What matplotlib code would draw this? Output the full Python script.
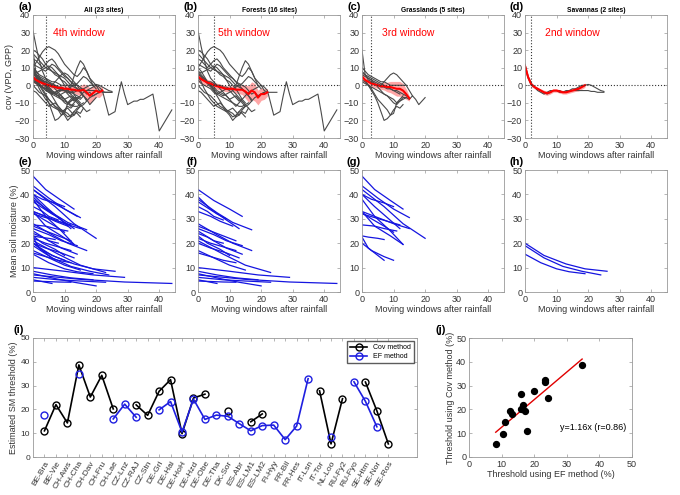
import matplotlib.pyplot as plt
import numpy as np

plt.rcParams['font.family'] = ['Liberation Sans', 'DejaVu Sans']

# cov(VPD, GPP) per moving window (x = 0, 1, 2, ...), gray lines
cov_forest = [
    [8, 6, 4, 2, 0, -2, -4, -5, -6, -5, -4, -3, 0, 5, 10, 14, 12, 8, 4, 2, 0, -1, -3, -10, -17, -16, -15, -6, 2,
     -5, -11, -10, -9, -9, -8, -8, -7, -6, -5, -15, -26, -23, -20, -17, -14],
    [31, 22, 14, 8, 4, 2, 0, -2, -4, -6, -8, -10, -12, -10, -8],
    [10, 13, 16, 19, 21, 22, 21, 20, 18, 15, 12, 10, 8, 6, 5, 7, 10, 8, 4, 0],
    [20, 19, 17, 15, 12, 10, 8, 6, 5, 3, 2, 0, -2, -5, -8, -10],
    [15, 14, 12, 10, 12, 14, 15, 13, 10, 8, 6, 4, 2, 0, -2, -4, -6, -9],
    [10, 8, 5, 2, 0, -3, -6, -9, -12, -14, -15, -16, -18, -17, -15, -16, -13],
    [5, 2, -2, -5, -8, -10, -12, -13, -14, -15, -14, -13, -15, -17, -14, -12],
    [12, 11, 10, 9, 8, 10, 12, 11, 9, 7, 5, 4, 2, 1, 0, -1, -3, -5, -4, -6, -5, -4],
    [0, -2, -4, -5, -6, -8, -10, -12, -13, -15, -17, -20, -18, -15, -13, -12],
    [6, 5, 3, 1, 0, -1, -3, -4, -5, -6, -8, -7, -6, -8, -10, -12, -11, -9, -7, -6, -5, -4],
    [8, 7, 8, 9, 10, 11, 10, 8, 6, 3, 0, -3, -5, -7, -9, -11, -13, -15, -14],
    [3, 1, 0, -1, -2, -4, -5, -4, -3, -2, -3, -5, -7, -9, -8, -6, -4, -3, -2, -1, 0, -3, -4, -4, -4, -4],
    [18, 16, 14, 12, 10, 9, 8, 7, 6, 5, 4, 2, 0, -1, -2, -4, -6, -8],
    [-3, -4, -6, -8, -10, -12, -11, -10, -12, -14, -16, -18, -17, -15, -16, -18],
    [4, 4, 3, 2, 2, 1, 0, 0, -1, -1, -2, -2, -1, 0, 1, 3, 5, 4, 2, 0, -2],
    [7, 5, 3, 1, -1, -3, -5, -6, -7, -8, -9, -10, -11, -12, -12, -11, -10],
]
cov_grass = [
    [20, 6, 3, 2, 1, 0, -1, -1, -2, -2, -3, -3, -4, -5, -6, -7],
    [10, 8, 6, 5, 4, 3, 2, 2, 1, 0, 0, 0, 0, 0, 0],
    [5, 3, 0, -3, -6, -10, -15, -20, -19, -17, -14, -12, -13, -11],
    [3, 2, 0, -2, -5, -8, -10, -12, -14, -17, -16, -10, -8, -6],
    [8, 6, 4, 3, 2, 1, 0, 2, 4, 6, 7, 6, 4, 2, 0, -3, -6],
    [6, 5, 4, 3, 1, -1, -3, -5, -6, -8, -10, -11, -9, -7, -7, -8, -6, -8, -11, -9, -7],
    [2, 1, 0, -1, -2, -3, -4, -5, -6, -7, -8, -10, -9, -8, -7],
    [7, 6, 5, 4, 3, 2, 1, 0, -1, -2, -3, -4, -5],
]
cov_savanna = [
    [12, 5, 1, -1, -2, -3, -4, -5, -4, -3, -3, -4, -4, -3, -3, -2, -2, -1, 0, 0, 0.5, 0, -1, -2, -3, -3.5],
    [10, 4, 0, -1, -3, -4, -5, -4, -3, -3, -3, -3, -4, -4, -3, -3, -3, -3, -3, -3, -3, -3.5, -3.5, -4, -4, -4],
]

# group mean (red) and its spread
mean_all = [4.5, 3, 2, 1.2, 0.5, 0, -0.5, -1, -1.5, -1.5, -2, -2, -2.5, -2.5, -3, -3, -2.5, -4, -6, -4.5, -3, -4, -3]
band_all = [3, 2.5, 2.2, 2, 1.8, 1.6, 1.6, 1.6, 1.6, 1.6, 1.6, 1.8, 1.8, 2, 2.3, 2.8, 3.3, 4.2, 4.6, 4.2, 3.6, 3, 2.2]
mean_for = [5, 3.5, 2.5, 1.5, 1, 0, -0.5, -1, -1.5, -2, -2, -2, -2.5, -2.5, -2.5, -3.5, -5, -3, -4, -7, -5, -5, -4]
band_for = [3, 2.5, 2.2, 1.8, 1.8, 1.7, 1.7, 1.7, 1.7, 1.7, 1.7, 1.7, 2, 2.2, 2.8, 3.8, 4.6, 5, 5, 4.2, 3.6, 3, 2.2]
mean_gr = [5, 3, 2, 1, 0.5, 0, -0.5, -0.5, -1, -1, -1.5, -2, -2, -3, -5, -7.5]
band_gr = [2.5, 2.2, 1.8, 1.8, 1.8, 1.8, 1.8, 2.2, 2.7, 3.2, 3.7, 4.2, 4.2, 4, 3, 1.5]
mean_sv = [11, 4.5, 0.5, -1, -2, -3, -4, -4.5, -4, -3, -3, -3.5, -4, -4, -3.5, -3, -2.5, -2, -1, 0]
band_sv = [1.6, 1.4, 1.2, 1, 0.9, 1, 1.2, 1.2, 1, 0.9, 0.9, 1, 1, 1, 1, 1, 1, 1.2, 1.2, 1.2]

group_titles = ['All (23 sites)', 'Forests (16 sites)', 'Grasslands (5 sites)', 'Savannas (2 sites)']
threshold_windows = [4, 5, 3, 2]
window_labels = ['4th window', '5th window', '3rd window', '2nd window']

# mean soil moisture drydowns (window, %), blue lines
sm_forest = [
    ([0, 5, 10, 14], [42, 37.5, 34, 31]),
    ([0, 4, 9, 13], [39, 34, 29.5, 26]),
    ([0, 6, 11, 17], [38, 32.5, 28.5, 25.5]),
    ([0, 3, 6, 9], [37, 34.5, 32, 30]),
    ([0, 3, 5, 8], [35, 33, 31, 29.5]),
    ([0, 4, 7, 11], [33, 31, 29, 27]),
    ([0, 6, 11, 17], [28, 23.5, 20, 17]),
    ([0, 4, 8, 12], [27, 25, 23, 21]),
    ([0, 5, 9, 14], [26, 23.5, 21, 19]),
    ([0, 5, 9, 14], [25, 21, 18, 15.5]),
    ([0, 3, 5, 8], [24, 22.5, 21, 20]),
    ([0, 3, 7, 10], [23, 20, 17.5, 15]),
    ([0, 4, 8, 12], [22, 20, 18.5, 17]),
    ([0, 8, 15, 23], [21, 15.5, 11, 8]),
    ([0, 4, 9, 13], [20, 18, 16, 14]),
    ([0, 5, 10, 15], [17, 14, 11, 9]),
    ([0, 4, 8, 12], [16, 14.5, 13, 12]),
    ([0, 10, 19, 29], [10, 8.5, 7, 6]),
    ([0, 7, 13, 20], [7.5, 5.5, 4, 2.5]),
    ([0, 15, 29, 44], [7, 5.2, 4.1, 3.5]),
    ([0, 8, 15, 23], [6, 5, 4.5, 4]),
    ([0, 2, 4, 6], [5, 4.5, 4, 3.5]),
    ([0, 4, 8, 12], [4.5, 4.3, 4.1, 4]),
    ([0, 6, 12, 19], [8.5, 7, 5.8, 5]),
]
sm_grass = [
    ([0, 4, 9, 13], [47.5, 42, 37.5, 34]),
    ([0, 5, 10, 15], [43.5, 38.5, 34, 30.5]),
    ([0, 7, 13, 20], [42, 35, 28, 22]),
    ([0, 3, 7, 10], [40, 38, 36.5, 35]),
    ([0, 4, 9, 13], [38, 31, 25, 19.5]),
    ([0, 4, 8, 12], [40, 35, 30.5, 26]),
    ([0, 5, 10, 15], [33, 30.5, 28, 26]),
    ([0, 3, 7, 10], [32.5, 30, 27, 24.5]),
    ([0, 4, 8, 12], [32, 30.5, 29, 27.5]),
    ([0, 4, 7, 11], [27.5, 27, 26, 25]),
    ([0, 4, 9, 13], [33, 27, 23, 19.5]),
    ([0, 2, 5, 7], [23, 22.5, 22, 21.5]),
    ([0, 2, 5, 7], [22.5, 18, 15, 13]),
    ([0, 3, 7, 10], [20, 17, 14.5, 13]),
]
sm_savanna = [
    ([0, 6, 13, 19, 26], [20, 15, 11.5, 9.5, 8.5]),
    ([0, 6, 12, 18, 24], [19, 14, 10.5, 8.5, 7]),
    ([0, 5, 10, 14, 19], [15.5, 12, 9.5, 8.3, 7.5]),
]

# site thresholds (panels i, j)
sites = ['BE-Bra', 'BE-Vie', 'CH-Aws', 'CH-Cha', 'CH-Dav', 'CH-Fru', 'CH-Lae', 'CZ-Lnz', 'CZ-RAJ', 'CZ-Stn',
         'DE-Gri', 'DE-Hai', 'DE-HoH', 'DE-Hzd', 'DE-Obe', 'DE-Tha', 'DK-Sor', 'ES-Abr', 'ES-LM1', 'ES-LM2',
         'FI-Hyy', 'FR-Bil', 'FR-Hes', 'IT-Lsn', 'IT-Tor', 'NL-Loo', 'RU-Fy2', 'RU-Fyo', 'SE-Htm', 'SE-Nor',
         'SE-Ros']
nan = np.nan
cov_thr = [11, 22, 14.3, 38.7, 25.2, 34.3, 20.2, nan, 21.9, 17.5, 27.6, 32.5, 9.8, 24.8, 26.4, nan, 19.4, nan,
           14.8, 18.1, nan, nan, nan, nan, 27.8, 5.5, 24.5, nan, 31.5, 19.4, 5.5]
ef_thr = [17.8, nan, nan, 34.7, nan, nan, 16, 22.2, 16.7, nan, 19.8, 23.3, 10.5, 24.3, 15.8, 17.6, 17.1, 14,
          11, 13.2, 13.4, 7.3, 13, 32.9, nan, 8.2, nan, 31.6, 23.4, 12.7, nan]
fit_slope = 1.16
fit_icpt = 0.9

W, H = 680, 495
GRAY = '#999999'


def px_axes(fig, left, top, right, bottom):
    return fig.add_axes([left / W, 1 - bottom / H, (right - left) / W, (bottom - top) / H])


def style(ax, size=6.5):
    for s in ax.spines.values():
        s.set_color(GRAY)
        s.set_linewidth(0.6)
    ax.tick_params(direction='in', length=2, width=0.5, colors=GRAY, labelcolor='#333333',
                   labelsize=size, top=True, right=True, pad=2)


def panel_label(fig, text, x, y):
    fig.text(x / W, 1 - y / H, text, fontsize=8, fontweight='bold', ha='right', va='baseline')


fig = plt.figure(figsize=(6.8, 4.95), dpi=100)

lefts = [33, 198, 362, 525]
cov_groups = [cov_forest + cov_grass + cov_savanna, cov_forest, cov_grass, cov_savanna]
means = [mean_all, mean_for, mean_gr, mean_sv]
bands = [band_all, band_for, band_gr, band_sv]
sm_groups = [sm_forest + sm_grass + sm_savanna, sm_forest, sm_grass, sm_savanna]
labels_top = ['(a)', '(b)', '(c)', '(d)']
labels_mid = ['(e)', '(f)', '(g)', '(h)']

for k in range(4):
    L = lefts[k]
    ax = px_axes(fig, L, 15, L + 142, 138)
    for c in cov_groups[k]:
        ax.plot(np.arange(len(c)), c, color='#4a4a4a', lw=0.8)
    m = np.array(means[k])
    b = np.array(bands[k])
    xm = np.arange(len(m))
    ax.fill_between(xm, m - b, m + b, color='#ff3b3b', alpha=0.45, lw=0)
    ax.plot(xm, m, color='red', lw=1.5)
    ax.axhline(0, color='#333333', ls=':', lw=0.8)
    ax.axvline(threshold_windows[k], color='#333333', ls=':', lw=0.8)
    ax.text(6.3, 29.7, window_labels[k], color='red', fontsize=7.5, va='center')
    ax.set_xlim(0, 45)
    ax.set_ylim(-30, 40)
    ax.set_xticks([0, 10, 20, 30, 40])
    ax.set_yticks(range(-30, 41, 10))
    ax.set_xlabel('Moving windows after rainfall', fontsize=6.5, color='#333333', labelpad=1)
    ax.set_title(group_titles[k], fontsize=4.8, fontweight='bold', pad=2)
    style(ax)
    if k == 0:
        ax.set_ylabel('cov (VPD, GPP)', fontsize=6.5, color='#333333', labelpad=1)
    panel_label(fig, labels_top[k], L - 1, 10)

    ax2 = px_axes(fig, L, 170, L + 142, 292)
    for xs, ys in sm_groups[k]:
        ax2.plot(xs, ys, color='#1515e0', lw=0.9)
    ax2.set_xlim(0, 45)
    ax2.set_ylim(0, 50)
    ax2.set_xticks([0, 10, 20, 30, 40])
    ax2.set_yticks(range(0, 51, 10))
    ax2.set_xlabel('Moving windows after rainfall', fontsize=6.5, color='#333333', labelpad=1)
    style(ax2)
    if k == 0:
        ax2.set_ylabel('Mean soil moisture (%)', fontsize=6.5, color='#333333', labelpad=1)
    panel_label(fig, labels_mid[k], L - 1, 165)

# (i) thresholds per site
axi = px_axes(fig, 33, 338, 417, 457)
xi = np.arange(1, len(sites) + 1)
axi.plot(xi, cov_thr, color='black', lw=1.2, marker='o', ms=5, mfc='none', mew=1, label='Cov method')
axi.plot(xi, ef_thr, color='#1f1fe0', lw=1.2, marker='o', ms=5, mfc='none', mew=1, label='EF method')
axi.set_xlim(0, 33.5)
axi.set_ylim(0, 50)
axi.set_yticks(range(0, 51, 10))
axi.set_xticks(xi)
axi.set_xticklabels(sites, rotation=60, ha='right', rotation_mode='anchor')
axi.set_ylabel('Estimated SM threshold (%)', fontsize=6.5, color='#333333', labelpad=2)
style(axi, 6)
axi.legend(loc='upper right', fontsize=5, frameon=True, fancybox=False, edgecolor='#333333',
           handlelength=2.5, borderpad=0.4, labelspacing=0.3)
panel_label(fig, '(i)', 24, 333)

# (j) Cov vs EF thresholds
cov_a = np.array(cov_thr)
ef_a = np.array(ef_thr)
both = ~np.isnan(cov_a) & ~np.isnan(ef_a)
axj = px_axes(fig, 469, 338, 632, 457)
axj.scatter(ef_a[both], cov_a[both], s=18, color='black', zorder=3)
xf = np.array([ef_a[both].min(), ef_a[both].max()])
axj.plot(xf, fit_slope * xf + fit_icpt, color='#e00000', lw=1)
axj.text(28, 12.4, 'y=1.16x (r=0.86)', fontsize=6.5, va='center')
axj.set_xlim(0, 50)
axj.set_ylim(0, 50)
axj.set_xticks(range(0, 51, 10))
axj.set_yticks(range(0, 51, 10))
axj.set_xlabel('Threshold using EF method (%)', fontsize=6.5, color='#333333', labelpad=1)
axj.set_ylabel('Threshold using Cov method (%)', fontsize=6.5, color='#333333', labelpad=1)
style(axj)
panel_label(fig, '(j)', 446, 333)

fig.savefig('out.png', dpi=100)
